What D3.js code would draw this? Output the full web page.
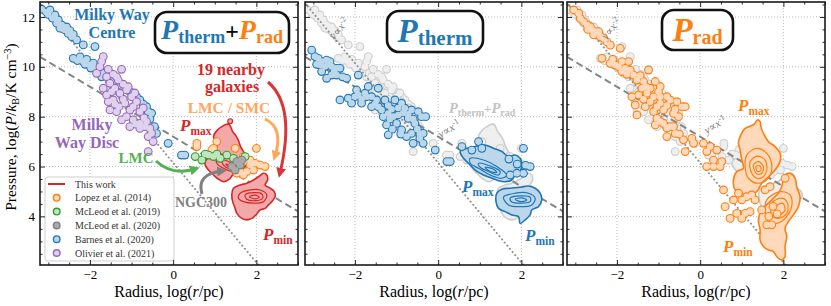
<!DOCTYPE html>
<html>
<head>
<meta charset="utf-8">
<script src="https://cdn.jsdelivr.net/npm/d3@7"></script>
<style>
body { margin: 0; background: #fff; }
svg { display: block; }
text { font-family: "Liberation Serif", "DejaVu Serif", serif; }
</style>
</head>
<body>
<svg width="831" height="306"></svg>
<script>
// tick values
const xTicks = [-2, 0, 2]
const yTicks = [4, 6, 8, 10, 12]

// reference lines y ~ x^-1 (dashed) and y ~ x^-2 (dotted), end points
const lineInv1 = [[-3.2, 10.4], [3.0, 4.2]]
const lineInv2 = [[-3.2, 12.55], [2.1, 1.95]]

// panel 1 : P_therm + P_rad, by source
const barnes = [[-3.16,12.31],[-2.96,12.28],[-3.05,12.2],[-3.0,12.1],[-2.84,12.08],[-2.9,11.95],[-2.76,11.88],[-2.8,11.75],[-2.68,11.68],[-2.72,11.55],[-2.64,11.52],[-2.6,11.48],[-2.52,11.34],[-2.56,11.6],[-2.4,11.3],[-2.44,11.21],[-2.48,11.45],[-2.32,11.08],[-2.16,10.88],[-1.88,10.81],[-2.4,10.34],[-2.24,10.4],[-2.3,10.25],[-2.16,10.21],[-2.12,10.1],[-2.08,10.3],[-2.0,10.07],[-1.98,9.95],[-1.92,10.15],[-1.88,9.94],[-1.8,9.8],[-1.76,9.87],[-1.72,9.6],[-1.68,9.74],[-1.56,9.67],[-1.56,9.6],[-1.44,9.47],[-1.36,9.3],[-1.28,9.27],[-1.2,9.2],[-1.12,9.14],[-1.04,9.0],[-0.96,8.94],[-0.88,8.8],[-0.8,8.67],[-0.72,8.5],[-0.64,8.4],[-0.6,8.2],[-0.52,8.14],[-0.56,7.9],[-0.45,7.6],[-0.4,7.33],[-0.12,6.93],[0.2,6.46],[0.28,6.46]]
const olivier = [[-1.68,10.41],[-1.72,10.21],[-1.76,10.0],[-1.24,9.9],[-1.56,9.9],[-1.6,9.6],[-1.44,9.7],[-1.36,9.6],[-1.84,9.74],[-1.32,9.47],[-1.52,9.34],[-1.2,9.3],[-1.4,9.14],[-1.08,9.2],[-1.68,9.14],[-1.48,9.0],[-0.92,8.95],[-1.6,8.87],[-1.28,8.94],[-1.12,9.07],[-1.0,8.8],[-1.2,8.7],[-1.44,8.67],[-1.56,8.6],[-1.4,8.5],[-1.16,8.54],[-0.88,8.6],[-1.3,8.4],[-0.96,8.4],[-0.72,8.35],[-1.52,8.27],[-1.36,8.2],[-1.04,8.27],[-0.8,8.2],[-1.12,8.0],[-0.7,7.95],[-0.96,7.87],[-1.24,7.87],[-0.8,7.73],[-0.9,7.7],[-0.64,7.8],[-0.68,7.6],[-1.04,7.6],[-0.8,7.53],[-0.56,7.53],[-0.52,7.33],[-0.6,7.2],[-0.48,7.0],[-0.6,6.6]]
const lopez = [[0.57,6.93],[0.57,6.8],[1.05,7.0],[0.93,6.66],[0.97,6.73],[1.49,6.73],[2.0,6.73],[1.69,6.4],[1.85,6.26],[1.69,6.2],[1.97,6.13],[1.85,6.06],[2.09,6.06],[2.21,6.0],[1.93,5.86],[1.77,5.8],[1.61,5.8],[1.53,5.73],[1.69,5.66]]
const mcleod19 = [[0.53,6.4],[0.69,6.26],[0.85,6.46],[0.97,6.4],[1.13,6.33],[1.29,6.46],[1.45,6.33],[1.73,6.4],[0.77,6.5],[1.05,6.5]]
const mcleod20 = [[1.41,6.0],[1.53,6.2],[1.61,6.06],[1.49,5.86],[1.65,6.26]]
const thisWorkOutlier = [[1.37,7.82]]

// contours of "this work" (outer ring first, then inner levels)
const bothMax = [
  [[0.97,7.2],[1.05,7.44],[1.17,7.6],[1.33,7.71],[1.38,7.6],[1.43,7.4],[1.51,7.23],[1.57,7.04],[1.62,6.8],[1.69,6.6],[1.77,6.42],[1.78,6.2],[1.73,6.0],[1.65,5.83],[1.54,5.73],[1.43,5.66],[1.35,5.49],[1.22,5.39],[1.09,5.49],[0.97,5.66],[0.85,5.86],[0.77,6.06],[0.79,6.26],[0.89,6.42],[1.01,6.6],[1.05,6.8],[1.02,7.0]],
  [[1.05,6.46],[1.25,6.46],[1.45,6.26],[1.61,6.0],[1.57,5.8],[1.41,5.8],[1.21,5.93],[1.05,6.13]],
  [[1.17,6.26],[1.33,6.2],[1.49,6.0],[1.51,5.86],[1.37,5.89],[1.21,6.06]],
  [[1.27,6.1],[1.41,6.02],[1.46,5.92],[1.35,5.96]]
]
const bothMin = [
  [[1.45,5.13],[1.61,5.26],[1.77,5.33],[1.93,5.46],[2.05,5.59],[2.17,5.73],[2.25,5.66],[2.27,5.46],[2.21,5.26],[2.33,5.13],[2.43,4.99],[2.45,4.79],[2.37,4.59],[2.29,4.46],[2.21,4.32],[2.09,4.26],[1.99,4.06],[1.89,3.92],[1.77,3.86],[1.65,3.92],[1.53,4.12],[1.49,4.32],[1.43,4.59],[1.41,4.86]],
  [[1.61,4.93],[1.85,5.06],[2.09,5.06],[2.25,4.86],[2.17,4.59],[1.93,4.53],[1.69,4.59],[1.57,4.73]],
  [[1.73,4.86],[1.93,4.95],[2.13,4.9],[2.15,4.73],[1.97,4.63],[1.77,4.69]],
  [[1.83,4.79],[1.97,4.85],[2.07,4.77],[1.97,4.7]]
]

// panel 2 : P_therm
const thermPts = [[-3.04,10.67],[-2.96,10.41],[-2.88,10.34],[-2.8,10.21],[-2.68,10.27],[-2.6,10.21],[-2.84,10.07],[-2.92,10.1],[-2.72,10.01],[-2.64,10.1],[-2.56,10.01],[-2.44,9.94],[-2.36,9.94],[-2.5,9.82],[-2.8,9.81],[-2.68,9.54],[-2.56,9.67],[-2.44,9.67],[-2.3,9.6],[-2.2,9.54],[-1.92,9.67],[-2.36,8.67],[-2.16,8.74],[-1.96,9.07],[-1.92,8.87],[-1.84,8.7],[-1.76,8.94],[-1.72,8.8],[-1.6,8.8],[-1.52,8.5],[-1.48,8.67],[-1.44,8.4],[-1.28,8.67],[-1.2,8.45],[-1.12,8.3],[-1.04,8.67],[-0.96,8.35],[-0.88,8.54],[-0.84,8.15],[-0.8,8.34],[-0.72,8.1],[-0.64,8.27],[-0.6,7.9],[-0.48,8.2],[-0.4,8.0],[-0.3,8.0],[-2.08,8.54],[-1.84,8.54],[-1.6,8.4],[-1.36,8.27],[-1.32,8.0],[-1.2,8.13],[-1.16,7.9],[-1.24,7.67],[-1.1,7.5],[-1.2,7.27],[-1.0,7.73],[-0.9,7.3],[-0.88,7.47],[-0.76,7.2],[-0.64,7.33],[-0.5,7.5],[-0.44,7.3],[-0.6,6.93],[-0.44,7.13],[-0.36,6.93],[-0.36,7.33],[-0.96,8.07],[-0.72,7.93],[-0.56,7.73],[-1.68,9.21],[-1.44,9.14],[-2.0,8.8],[-1.08,8.0],[-0.07,6.66],[0.21,6.2],[0.29,6.2],[0.57,6.8],[0.81,6.66],[0.97,7.0],[1.05,6.73],[2.05,6.73],[2.21,6.0],[2.05,5.73],[1.89,5.73],[1.73,5.66],[1.7,6.3],[1.9,6.1],[2.1,6.05]]
const thermMax = [
  [[0.53,6.6],[0.69,6.73],[0.89,6.8],[1.13,6.86],[1.33,6.73],[1.53,6.6],[1.69,6.4],[1.85,6.46],[1.97,6.33],[2.01,6.06],[1.97,5.8],[1.85,5.66],[1.77,5.46],[1.61,5.39],[1.45,5.43],[1.29,5.53],[1.09,5.66],[0.89,5.86],[0.73,6.13],[0.61,6.33]],
  [[0.77,6.33],[1.09,6.26],[1.41,6.0],[1.65,5.66],[1.53,5.53],[1.25,5.66],[0.97,5.93],[0.77,6.13]],
  [[0.97,6.13],[1.25,6.02],[1.49,5.8],[1.45,5.66],[1.21,5.8],[1.01,5.97]],
  [[1.13,5.97],[1.33,5.89],[1.41,5.76],[1.23,5.82]]
]
const thermMin = [
  [[1.41,4.93],[1.53,5.09],[1.73,5.13],[1.97,5.17],[2.17,5.22],[2.33,5.13],[2.45,4.93],[2.49,4.66],[2.41,4.39],[2.25,4.26],[2.21,4.06],[2.09,3.86],[1.97,3.72],[1.93,3.99],[1.77,4.06],[1.61,4.19],[1.45,4.32],[1.39,4.59]],
  [[1.57,4.77],[1.85,4.93],[2.17,4.93],[2.33,4.73],[2.25,4.46],[1.97,4.39],[1.69,4.46]],
  [[1.73,4.73],[1.97,4.82],[2.21,4.77],[2.21,4.59],[1.97,4.53],[1.77,4.58]],
  [[1.85,4.69],[2.01,4.74],[2.13,4.66],[1.99,4.59]]
]

// panel 3 : P_rad
const radPts = [[-3.04,12.28],[-2.92,12.15],[-2.88,11.94],[-2.8,11.81],[-2.72,11.68],[-2.7,11.5],[-2.64,11.61],[-2.6,11.48],[-2.56,11.28],[-2.52,11.41],[-2.44,11.41],[-2.4,11.21],[-2.32,11.14],[-2.24,11.0],[-2.16,10.87],[-1.92,10.74],[-2.36,10.34],[-2.1,10.3],[-2.16,10.14],[-2.04,10.07],[-1.96,10.0],[-1.88,10.21],[-1.72,10.21],[-1.8,9.94],[-1.88,9.81],[-1.76,9.7],[-1.68,9.87],[-1.6,9.67],[-1.44,9.65],[-1.24,9.87],[-1.52,9.47],[-1.36,9.41],[-1.3,9.2],[-1.08,9.41],[-1.4,9.14],[-1.2,9.14],[-0.96,9.21],[-1.0,9.0],[-1.64,8.8],[-1.48,8.87],[-1.36,8.7],[-1.28,8.94],[-1.12,8.8],[-0.8,8.8],[-1.56,8.47],[-1.2,8.6],[-0.96,8.54],[-0.72,8.67],[-0.56,8.6],[-0.44,8.4],[-0.36,8.4],[-1.04,8.4],[-0.8,8.45],[-0.6,8.3],[-1.52,8.07],[-1.12,8.2],[-0.88,8.27],[-0.64,8.13],[-0.52,8.0],[-0.96,7.8],[-1.08,7.67],[-0.88,7.73],[-0.8,7.55],[-0.72,7.6],[-0.64,7.6],[-0.5,7.3],[-0.8,7.2],[-0.6,7.33],[-0.4,7.07],[-0.36,6.6],[-0.16,6.93],[-1.04,7.93],[-1.32,8.4],[-0.96,8.8],[-0.2,7.13],[0.16,6.6],[0.08,6.93],[0.24,6.8],[0.4,6.66],[0.32,6.26],[0.52,6.2],[0.16,6.0],[0.32,6.0],[0.48,6.0],[0.56,5.06],[0.6,4.39],[0.8,4.66],[0.92,4.93],[1.0,4.66],[1.12,4.79],[1.24,4.86],[1.32,4.66],[0.72,3.92],[1.0,3.92],[0.88,4.12],[1.08,4.12],[1.2,4.19],[1.48,4.26],[1.6,3.66],[1.72,3.66],[1.56,5.06],[1.68,5.19],[2.04,5.53],[1.75,4.4],[1.85,4.1],[1.65,4.0]]
const radMax = [
  [[0.96,7.2],[1.08,7.53],[1.28,7.67],[1.38,7.87],[1.44,7.8],[1.46,7.6],[1.52,7.33],[1.64,7.0],[1.8,6.8],[1.92,6.53],[1.92,6.2],[1.8,5.86],[1.64,5.59],[1.48,5.33],[1.36,4.99],[1.2,4.86],[1.0,4.9],[0.84,5.06],[0.8,5.46],[0.88,5.8],[1.04,5.93],[1.0,6.26],[0.96,6.66],[0.92,6.93]],
  [[1.12,6.46],[1.36,6.73],[1.6,6.53],[1.72,6.06],[1.64,5.53],[1.4,5.33],[1.16,5.53],[1.08,6.0]],
  [[1.2,6.2],[1.38,6.42],[1.56,6.26],[1.6,5.86],[1.52,5.59],[1.36,5.53],[1.24,5.73]],
  [[1.28,6.06],[1.4,6.2],[1.52,6.0],[1.48,5.73],[1.36,5.7],[1.3,5.86]],
  [[1.34,6.0],[1.44,6.02],[1.46,5.84],[1.38,5.8]]
]
const radMin = [
  [[2.04,5.66],[2.16,5.73],[2.28,5.53],[2.32,5.19],[2.4,4.79],[2.36,4.39],[2.24,4.06],[2.12,3.79],[2.04,3.52],[2.08,3.19],[2.04,2.79],[2.04,2.39],[1.96,2.25],[1.84,2.39],[1.76,2.59],[1.64,2.65],[1.52,2.79],[1.44,3.05],[1.44,3.46],[1.4,3.86],[1.48,4.26],[1.64,4.53],[1.76,4.73],[1.88,4.93],[1.96,5.19],[2.0,5.46]],
  [[1.6,4.66],[1.92,4.99],[2.16,4.86],[2.2,4.39],[2.08,3.99],[1.84,3.72],[1.64,3.79],[1.56,4.19]],
  [[1.72,4.53],[1.96,4.73],[2.1,4.53],[2.08,4.12],[1.88,3.92],[1.72,4.06]],
  [[1.82,4.39],[1.98,4.53],[2.04,4.26],[1.9,4.06],[1.8,4.15]]
]

const col = { blue: '#1f77b4', orange: '#ff7f0e', green: '#2ca02c', gray: '#7f7f7f', purple: '#9467bd', red: '#d62728' }
const light = { blue: '#bcd6ea', orange: '#ffd9b9', green: '#c2e3c2', gray: '#a9a9a9', purple: '#e0d2ec', red: '#f3a9aa' }

const panelLeft = [40, 305, 567]
const panelW = 258
const plotTop = 2, plotBottom = 265

const x = d3.scaleLinear().domain([-3.2, 3.0]).range([0, panelW])
const y = d3.scaleLinear().domain([2.05, 12.6]).range([plotBottom, plotTop])

const svg = d3.select('svg')
const defs = svg.append('defs')

panelLeft.forEach(function (L, i) {
  defs.append('clipPath').attr('id', 'clip' + i)
    .append('rect').attr('x', 0).attr('y', plotTop).attr('width', panelW).attr('height', plotBottom - plotTop)
})

const arrowColors = { green: '#55b155', gray: '#808080', orange: '#ffa85c', red: '#d9363a' }
Object.keys(arrowColors).forEach(function (k) {
  defs.append('marker').attr('id', 'head-' + k)
    .attr('viewBox', '0 0 10 10').attr('refX', 5).attr('refY', 5)
    .attr('markerWidth', 10).attr('markerHeight', 10)
    .attr('markerUnits', 'userSpaceOnUse').attr('orient', 'auto')
    .append('path').attr('d', 'M0,0 L10,5 L0,10 z').attr('fill', arrowColors[k])
})

const line = d3.line().x(function (d) { return x(d[0]) }).y(function (d) { return y(d[1]) })
const ring = d3.line().x(function (d) { return x(d[0]) }).y(function (d) { return y(d[1]) })
  .curve(d3.curveCatmullRomClosed.alpha(0.5))

function scatter(g, data, edge, face, r) {
  g.append('g').selectAll('circle').data(data).join('circle')
    .attr('cx', function (d) { return x(d[0]) }).attr('cy', function (d) { return y(d[1]) })
    .attr('r', r + 1.1).attr('fill', edge)
  g.append('g').selectAll('circle').data(data).join('circle')
    .attr('cx', function (d) { return x(d[0]) }).attr('cy', function (d) { return y(d[1]) })
    .attr('r', r).attr('fill', face)
}

function blob(g, rings, edge, face, innerToo) {
  g.append('path').attr('d', ring(rings[0]))
    .attr('fill', face).attr('stroke', edge).attr('stroke-width', 1.6)
  if (!innerToo) return
  rings.slice(1).forEach(function (r) {
    g.append('path').attr('d', ring(r))
      .attr('fill', 'none').attr('stroke', edge).attr('stroke-width', 1.2)
  })
}

function refLines(g) {
  g.append('path').attr('d', line(lineInv1)).attr('fill', 'none')
    .attr('stroke', '#858585').attr('stroke-width', 2).attr('stroke-dasharray', '7,4')
  g.append('path').attr('d', line(lineInv2)).attr('fill', 'none')
    .attr('stroke', '#909090').attr('stroke-width', 2).attr('stroke-dasharray', '0.1,4')
    .attr('stroke-linecap', 'round')
}

function ghost(g) {
  const gc = '#cdcdcd', gf = '#efefef'
  blob(g, bothMax, gc, gf, false)
  blob(g, bothMin, gc, gf, false)
  ;[barnes, olivier, lopez, mcleod19, mcleod20].forEach(function (d) { scatter(g, d, gc, gf, 3.3) })
}

// text with parts [{t, size, italic, bold, color, shift}]
function richText(g, xPos, yPos, anchor, parts) {
  const t = g.append('text').attr('x', xPos).attr('y', yPos).attr('text-anchor', anchor)
  let cur = 0
  parts.forEach(function (p) {
    const s = p.shift || 0
    t.append('tspan').text(p.t)
      .attr('dy', s - cur)
      .attr('font-size', p.size)
      .attr('font-style', p.italic ? 'italic' : 'normal')
      .attr('font-weight', p.bold ? 'bold' : 'normal')
      .attr('fill', p.color || '#000')
    cur = s
  })
  return t
}

function pLabel(g, xPos, yPos, sub, color, big, small) {
  richText(g, xPos, yPos, 'start', [
    { t: 'P', size: big, italic: true, bold: true, color: color },
    { t: sub, size: small, bold: true, color: color, shift: big * 0.22 }
  ])
}

function titleBox(g, box, parts) {
  g.append('rect').attr('x', box[0]).attr('y', box[1]).attr('width', box[2]).attr('height', box[3])
    .attr('rx', 12).attr('fill', '#fff').attr('stroke', '#111').attr('stroke-width', 2.6)
  richText(g, box[0] + box[2] / 2, box[4], 'middle', parts)
}

function grid(g) {
  g.append('g').selectAll('line').data(xTicks).join('line')
    .attr('x1', function (d) { return x(d) }).attr('x2', function (d) { return x(d) })
    .attr('y1', plotTop).attr('y2', plotBottom)
    .attr('stroke', '#aaa').attr('stroke-width', 0.8).attr('stroke-dasharray', '1,2')
  g.append('g').selectAll('line').data(yTicks).join('line')
    .attr('y1', function (d) { return y(d) }).attr('y2', function (d) { return y(d) })
    .attr('x1', 0).attr('x2', panelW)
    .attr('stroke', '#aaa').attr('stroke-width', 0.8).attr('stroke-dasharray', '1,2')
}

function axes(g, i) {
  const xMinor = d3.range(-3, 3.01, 0.5).filter(function (v) { return xTicks.indexOf(v) < 0 })
  const yMinor = d3.range(2.5, 12.6, 0.5).filter(function (v) { return yTicks.indexOf(v) < 0 })
  const fmt = d3.format('d')
  function style(a) {
    a.attr('font-family', '"Liberation Serif", serif').attr('font-size', 13)
    a.select('.domain').remove()
    a.selectAll('.tick line').attr('stroke', '#111').attr('stroke-width', 0.9)
  }
  g.append('g').attr('transform', 'translate(0,' + plotBottom + ')')
    .call(d3.axisBottom(x).tickValues(xTicks).tickFormat(fmt).tickSize(-5).tickPadding(5)).call(style)
  g.append('g').attr('transform', 'translate(0,' + plotBottom + ')')
    .call(d3.axisBottom(x).tickValues(xMinor).tickSize(-2.5).tickFormat('')).call(style)
  g.append('g').attr('transform', 'translate(0,' + plotTop + ')')
    .call(d3.axisTop(x).tickValues(xTicks).tickSize(-5).tickFormat('')).call(style)
  g.append('g').attr('transform', 'translate(0,' + plotTop + ')')
    .call(d3.axisTop(x).tickValues(xMinor).tickSize(-2.5).tickFormat('')).call(style)
  const left = d3.axisLeft(y).tickValues(yTicks).tickFormat(i > 0 ? '' : fmt).tickSize(-5).tickPadding(5)
  g.append('g').call(left).call(style)
  g.append('g').call(d3.axisLeft(y).tickValues(yMinor).tickSize(-2.5).tickFormat('')).call(style)
  g.append('g').attr('transform', 'translate(' + panelW + ',0)')
    .call(d3.axisRight(y).tickValues(yTicks).tickSize(-5).tickFormat('')).call(style)
  g.append('g').attr('transform', 'translate(' + panelW + ',0)')
    .call(d3.axisRight(y).tickValues(yMinor).tickSize(-2.5).tickFormat('')).call(style)

  g.append('rect').attr('x', 0).attr('y', plotTop).attr('width', panelW).attr('height', plotBottom - plotTop)
    .attr('fill', 'none').attr('stroke', '#1a1a1a').attr('stroke-width', 1.6)

  richText(g, panelW / 2, 297, 'middle', [
    { t: 'Radius, log(', size: 16 }, { t: 'r', size: 16, italic: true }, { t: '/pc)', size: 16 }
  ])
}

function arrow(g, d, key) {
  g.append('path').attr('d', d).attr('fill', 'none')
    .attr('stroke', arrowColors[key]).attr('stroke-width', 3)
    .attr('marker-end', 'url(#head-' + key + ')')
}

function slopeLabel(g, cx, cy, power, angle) {
  richText(g, cx, cy, 'middle', [
    { t: 'y', size: 11, italic: true, color: '#7a7a7a' }, { t: '∝', size: 11, color: '#7a7a7a' },
    { t: 'x', size: 11, italic: true, color: '#7a7a7a' }, { t: power, size: 8, color: '#7a7a7a', shift: -4 }
  ]).attr('transform', 'rotate(' + angle + ',' + cx + ',' + cy + ')')
}

const panelsG = panelLeft.map(function (L) {
  return svg.append('g').attr('transform', 'translate(' + L + ',0)')
})

// ---------- panel 1
;(function () {
  const g = panelsG[0]
  grid(g)
  const p = g.append('g').attr('clip-path', 'url(#clip0)')
  refLines(p)
  blob(p, bothMax, col.red, light.red, true)
  blob(p, bothMin, col.red, light.red, true)
  p.append('g').selectAll('circle').data(thisWorkOutlier).join('circle')
    .attr('cx', function (d) { return x(d[0]) }).attr('cy', function (d) { return y(d[1]) })
    .attr('r', 2.4).attr('fill', light.red).attr('stroke', col.red).attr('stroke-width', 1.2)
  scatter(p, barnes, col.blue, light.blue, 3.3)
  scatter(p, olivier, col.purple, light.purple, 3.3)
  scatter(p, lopez, col.orange, light.orange, 3.3)
  scatter(p, mcleod19, col.green, light.green, 3.3)
  scatter(p, mcleod20, col.gray, light.gray, 3.3)

  // annotations
  const bold = function (t, c, s) { return { t: t, size: s || 16, bold: true, color: c } }
  richText(g, 72, 20, 'middle', [bold('Milky Way', col.blue)])
  richText(g, 72, 38, 'middle', [bold('Centre', col.blue)])
  richText(g, 191, 75, 'middle', [bold('19 nearby', col.red)])
  richText(g, 192, 92, 'middle', [bold('galaxies', col.red)])
  richText(g, 189, 113, 'middle', [bold('LMC / SMC', '#ffa660', 15.5)])
  richText(g, 52, 130, 'middle', [bold('Milky', col.purple)])
  richText(g, 47, 148, 'middle', [bold('Way Disc', col.purple)])
  richText(g, 96, 163, 'middle', [bold('LMC', '#55b155', 15)])
  richText(g, 161, 207, 'middle', [bold('NGC300', '#808080', 14)])
  pLabel(g, 140, 131, 'max', col.red, 17, 11.5)
  pLabel(g, 223, 240, 'min', col.red, 17, 11.5)

  arrow(g, 'M116,161 Q132,176 155,169', 'green')
  arrow(g, 'M162,194 Q156,174 182,171', 'gray')
  arrow(g, 'M225,119 Q244,128 235,156', 'orange')
  arrow(g, 'M228,82 Q256,106 240,173', 'red')

  titleBox(g, [115, 12, 134, 41, 39], [
    { t: 'P', size: 28, italic: true, bold: true, color: col.blue },
    { t: 'therm', size: 18, bold: true, color: col.blue, shift: 4 },
    { t: '+', size: 24, bold: true, color: '#000' },
    { t: 'P', size: 28, italic: true, bold: true, color: col.orange },
    { t: 'rad', size: 18, bold: true, color: col.orange, shift: 4 }
  ])

  // legend
  const items = [
    { name: 'This work', c: col.red, f: null },
    { name: 'Lopez et al. (2014)', c: col.orange, f: light.orange },
    { name: 'McLeod et al. (2019)', c: col.green, f: light.green },
    { name: 'McLeod et al. (2020)', c: col.gray, f: light.gray },
    { name: 'Barnes et al. (2020)', c: col.blue, f: light.blue },
    { name: 'Olivier et al. (2021)', c: col.purple, f: light.purple }
  ]
  const lg = g.append('g').attr('transform', 'translate(5,177)')
  lg.append('rect').attr('width', 129).attr('height', 84).attr('rx', 3)
    .attr('fill', '#fff').attr('fill-opacity', 0.88).attr('stroke', '#cfcfcf').attr('stroke-width', 1)
  items.forEach(function (d, i) {
    const yy = 7 + i * 13.8
    if (d.f === null) {
      lg.append('line').attr('x1', 3).attr('x2', 20).attr('y1', yy).attr('y2', yy)
        .attr('stroke', d.c).attr('stroke-width', 2)
    } else {
      lg.append('circle').attr('cx', 11.7).attr('cy', yy).attr('r', 3.3)
        .attr('fill', d.f).attr('stroke', d.c).attr('stroke-width', 1.4)
    }
    lg.append('text').attr('x', 30).attr('y', yy + 3.5).attr('font-size', 10).attr('fill', '#333').text(d.name)
  })

  axes(g, 0)
})()

// ---------- panel 2
;(function () {
  const g = panelsG[1]
  grid(g)
  const p = g.append('g').attr('clip-path', 'url(#clip1)')
  ghost(p)
  refLines(p)
  blob(p, thermMax, col.blue, light.blue, true)
  blob(p, thermMin, col.blue, light.blue, true)
  scatter(p, thermPts, col.blue, light.blue, 3.3)

  const gr = '#c2c2c2'
  richText(g, 144, 113, 'start', [
    { t: 'P', size: 14.5, italic: true, bold: true, color: gr },
    { t: 'therm', size: 10, bold: true, color: gr, shift: 3 },
    { t: '+', size: 13, bold: true, color: gr },
    { t: 'P', size: 14.5, italic: true, bold: true, color: gr },
    { t: 'rad', size: 10, bold: true, color: gr, shift: 3 }
  ])
  slopeLabel(g, 146, 132, '-1', -31)
  slopeLabel(g, 37, 31, '-2', -50)

  pLabel(g, 157, 192, 'max', col.blue, 17, 11.5)
  pLabel(g, 220, 241, 'min', col.blue, 17, 11.5)

  titleBox(g, [82, 11, 96, 41, 41.5], [
    { t: 'P', size: 33, italic: true, bold: true, color: col.blue },
    { t: 'therm', size: 21, bold: true, color: col.blue, shift: 3 }
  ])
  axes(g, 1)
})()

// ---------- panel 3
;(function () {
  const g = panelsG[2]
  grid(g)
  const p = g.append('g').attr('clip-path', 'url(#clip2)')
  ghost(p)
  refLines(p)
  blob(p, radMax, col.orange, light.orange, true)
  blob(p, radMin, col.orange, light.orange, true)
  scatter(p, radPts, col.orange, light.orange, 3.3)

  slopeLabel(g, 150, 128, '-1', -31)
  slopeLabel(g, 47, 31, '-2', -50)

  pLabel(g, 171, 111, 'max', col.orange, 17, 11.5)
  pLabel(g, 156, 252, 'min', col.orange, 17, 11.5)

  titleBox(g, [95, 10, 71, 40, 41], [
    { t: 'P', size: 33, italic: true, bold: true, color: col.orange },
    { t: 'rad', size: 20, bold: true, color: col.orange, shift: 3 }
  ])
  axes(g, 2)
})()

// y label
richText(svg, 0, 0, 'middle', [
  { t: 'Pressure, log(', size: 15.5 }, { t: 'P', size: 15.5, italic: true }, { t: '/', size: 15.5 },
  { t: 'k', size: 15.5, italic: true }, { t: 'B', size: 10.5, shift: 3 }, { t: '/K cm', size: 15.5 },
  { t: '−3', size: 10.5, shift: -5 }, { t: ')', size: 15.5 }
]).attr('transform', 'translate(16,127) rotate(-90)')
</script>
</body>
</html>
